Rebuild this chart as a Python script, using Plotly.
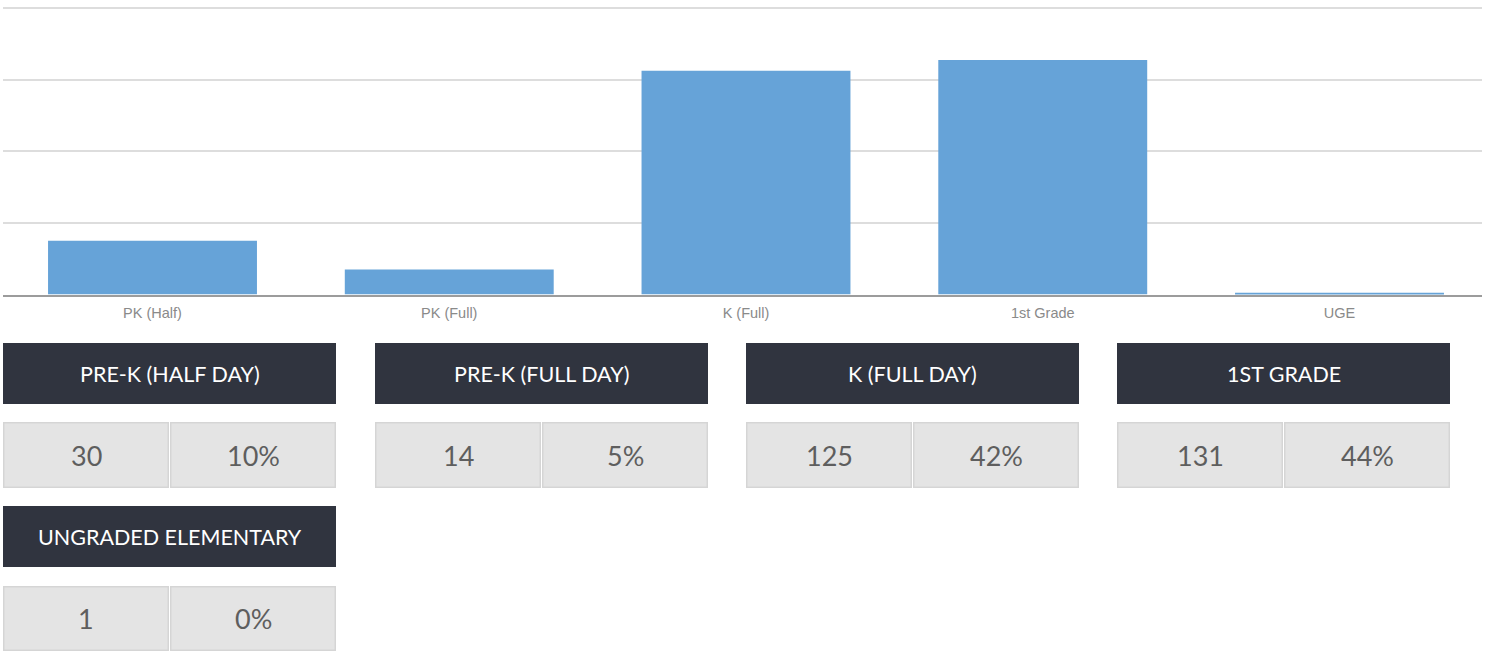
import plotly.graph_objects as go

# ---- data ----
categories = ["PK (Half)", "PK (Full)", "K (Full)", "1st Grade", "UGE"]
counts = [30, 14, 125, 131, 1]
box_titles = ["PRE-K (HALF DAY)", "PRE-K (FULL DAY)", "K (FULL DAY)", "1ST GRADE", "UNGRADED ELEMENTARY"]
percents = ["10%", "5%", "42%", "44%", "0%"]
y_ticks = [0, 40, 80, 120, 160]

W, H = 1486, 651


def px(x):
    return x / W


def py(y):
    return 1 - y / H


fig = go.Figure()
fig.add_trace(go.Bar(
    x=list(range(len(categories))),
    y=counts,
    width=0.704,
    marker=dict(color="#66a3d8", line=dict(width=0)),
    hoverinfo="x+y",
))

# x: category spacing 296.75 px, first center at 152.5 px
xppu = 296.75
x_left_px = 3
x_right_px = 1482
xr0 = -(152.5 - x_left_px) / xppu
xr1 = 4 + (x_right_px - 1339.5) / xppu

# y: 0 at 294.5 px, 160 at 8 px; domain reaches the top edge
yppu = (294.5 - 8) / 160
ytop = 160 + 8.0 / yppu
fig.update_layout(
    width=W, height=H,
    margin=dict(l=0, r=0, t=0, b=0),
    paper_bgcolor="white",
    plot_bgcolor="white",
    showlegend=False,
    xaxis=dict(
        domain=[px(x_left_px), px(x_right_px)],
        range=[xr0, xr1],
        tickmode="array",
        tickvals=list(range(len(categories))),
        ticktext=categories,
        tickfont=dict(family="Liberation Sans, Arial, sans-serif", size=14.5, color="#8a8a8a"),
        ticklabelstandoff=4,
        showgrid=False,
        zeroline=False,
        showline=True,
        linecolor="#9c9c9c",
        linewidth=2,
        ticks="",
        fixedrange=True,
    ),
    yaxis=dict(
        domain=[py(294.5), 1],
        range=[0, ytop],
        tickvals=y_ticks,
        showticklabels=False,
        showgrid=True,
        gridcolor="#dddddd",
        gridwidth=1.5,
        zeroline=False,
        fixedrange=True,
    ),
)

# ---- summary boxes ----
col_left = [3, 375, 746, 1117]
box_w = 333
rows = [
    dict(head=(343, 404), cell=(422, 488)),
    dict(head=(506, 567), cell=(586, 651)),
]

shapes = []
annotations = []
for i, (title, cnt, pct) in enumerate(zip(box_titles, counts, percents)):
    r = rows[i // 4]
    x0 = col_left[i % 4]
    x1 = x0 + box_w
    xm = x0 + box_w / 2
    h0, h1 = r["head"]
    c0, c1 = r["cell"]
    # header
    shapes.append(dict(type="rect", xref="paper", yref="paper",
                       x0=px(x0), x1=px(x1), y0=py(h1), y1=py(h0),
                       fillcolor="#30343f", line=dict(width=0), layer="above"))
    annotations.append(dict(xref="paper", yref="paper", x=px(xm), y=py((h0 + h1) / 2),
                            text=title, showarrow=False, xanchor="center", yanchor="middle",
                            font=dict(family="Lato, sans-serif", size=21.5, color="#ffffff")))
    # cells
    for j, (cx0, cx1, txt) in enumerate([(x0, xm - 0.5, str(cnt)), (xm + 0.5, x1, pct)]):
        shapes.append(dict(type="rect", xref="paper", yref="paper",
                           x0=px(cx0 + 0.75), x1=px(cx1 - 0.75), y0=py(c1 - 0.75), y1=py(c0 + 0.75),
                           fillcolor="#e4e4e4", line=dict(color="#d5d5d5", width=1.5), layer="above"))
        annotations.append(dict(xref="paper", yref="paper", x=px((cx0 + cx1) / 2), y=py((c0 + c1) / 2),
                                text=txt, showarrow=False, xanchor="center", yanchor="middle",
                                font=dict(family="Lato, sans-serif", size=27, color="#5e5e5e")))

fig.update_layout(shapes=shapes, annotations=annotations)

fig.write_html("out.html", config=dict(displayModeBar=False),
               post_script="document.body.style.margin='0px';")
